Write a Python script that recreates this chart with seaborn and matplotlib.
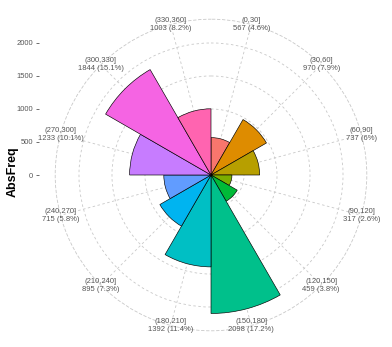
import numpy as np
import matplotlib
matplotlib.use("Agg")
import matplotlib.pyplot as plt
import seaborn as sns

# ---- data ----
bins = ["(0,30]", "(30,60]", "(60,90]", "(90,120]", "(120,150]", "(150,180]",
        "(180,210]", "(210,240]", "(240,270]", "(270,300]", "(300,330]", "(330,360]"]
counts = [567, 970, 737, 317, 459, 2098, 1392, 895, 715, 1233, 1844, 1003]
pcts = ["4.6", "7.9", "6", "2.6", "3.8", "17.2", "11.4", "7.3", "5.8", "10.1", "15.1", "8.2"]
r_ticks = [0, 500, 1000, 1500, 2000]
colors = ["#F8766D", "#DE8C00", "#B79F00", "#7CAE00", "#00BA38", "#00C08B",
          "#00BFC4", "#00B4F0", "#619CFF", "#C77CFF", "#F564E3", "#FF64B0"]

sns.set_theme(style="white")
plt.rcParams['font.family'] = ['Liberation Sans', 'DejaVu Sans']
palette = sns.color_palette(colors)

W, H = 392, 347
fig = plt.figure(figsize=(W / 100, H / 100), dpi=100)
fig.patch.set_facecolor("white")

cx, cy = 211, 175          # center (pixels from top-left)
R = 155.8                  # outer radius in pixels (0.45 of panel)
rmax = max(counts) * 0.45 / 0.4

ax = fig.add_axes([(cx - R) / W, (H - cy - R) / H, 2 * R / W, 2 * R / H],
                  projection="polar")
ax.set_theta_zero_location("N")
ax.set_theta_direction(-1)

n = len(bins)
width = 2 * np.pi / n
centers = np.arange(n) * width + width / 2
ax.bar(centers, counts, width=width, bottom=0, color=palette,
       edgecolor="black", linewidth=0.45, align="center", zorder=2)

ax.set_ylim(0, rmax)
ax.set_yticks(r_ticks[1:])
ax.set_yticklabels([])
ax.set_xticks(centers)
ax.set_xticklabels([])
ax.grid(True, color="#c8c8c8", linestyle=(0, (3, 3)), linewidth=0.6)
ax.set_axisbelow(True)
ax.spines["polar"].set_color("#c8c8c8")
ax.spines["polar"].set_linestyle((0, (3, 3)))
ax.spines["polar"].set_linewidth(0.6)
ax.set_facecolor("white")

for th, b, c, p in zip(centers, bins, counts, pcts):
    ax.text(th, rmax, f"{b}\n{c} ({p}%)", ha="center", va="center",
            fontsize=5.5, color="#555555", linespacing=1.15, zorder=3)

# left radial axis
axl = fig.add_axes([38.5 / W, (H - cy - R) / H, 0.0001, 2 * R / H])
axl.set_ylim(-rmax, rmax)
axl.set_yticks(r_ticks)
axl.set_yticklabels([str(t) for t in r_ticks])
axl.set_xticks([])
for s in axl.spines.values():
    s.set_visible(False)
axl.tick_params(axis="y", length=2.5, width=0.6, color="#555555",
                labelsize=5.5, labelcolor="#555555", pad=1.5, left=True)
axl.patch.set_alpha(0)

fig.text(12.5 / W, 1 - 172 / H, "AbsFreq", rotation=90, fontsize=9,
         fontweight="bold", color="black", ha="center", va="center")

fig.savefig("out.png", dpi=100, facecolor="white")
